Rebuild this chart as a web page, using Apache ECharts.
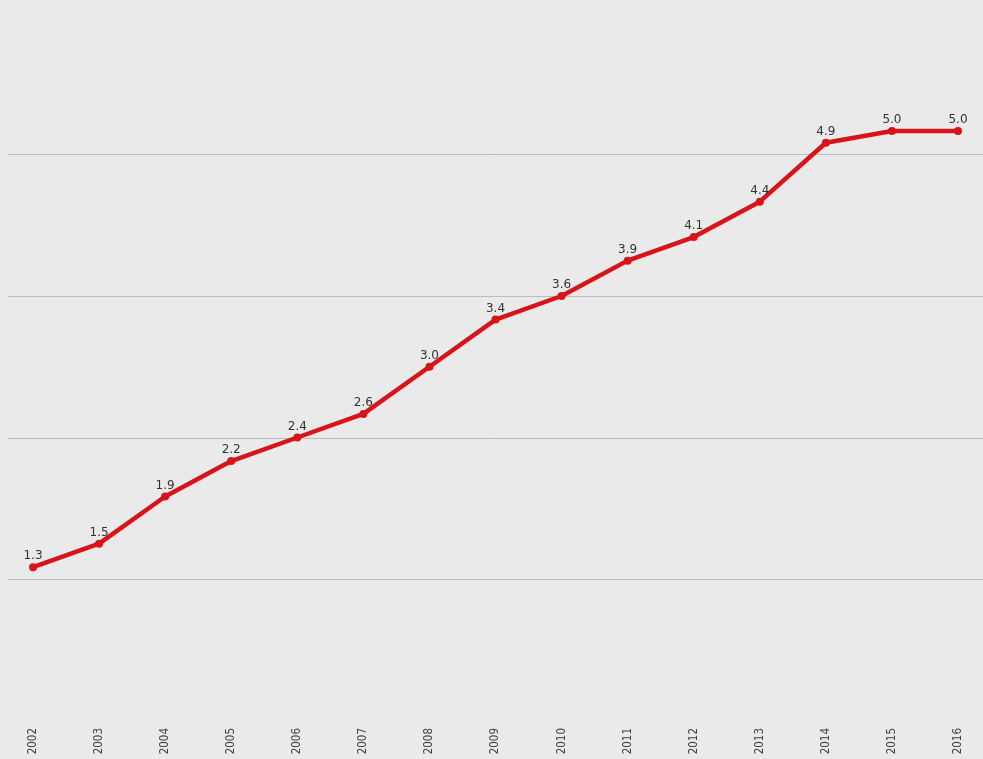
<!DOCTYPE html>
<html><head><meta charset="utf-8">
<script src="https://cdn.jsdelivr.net/npm/echarts@6/dist/echarts.min.js"></script>
<style>html,body{margin:0;padding:0;background:#eaeaea}#c{width:983px;height:759px}</style>
</head><body><div id="c"></div>
<script>
const years = ['2002','2003','2004','2005','2006','2007','2008','2009','2010','2011','2012','2013','2014','2015','2016'];
const values = [1.3,1.5,1.9,2.2,2.4,2.6,3.0,3.4,3.6,3.9,4.1,4.4,4.9,5.0,5.0];
const yMin = 0, yMax = 6, yStep = 1.2;

const chart = echarts.init(document.getElementById('c'), null, {renderer:'canvas'});
chart.setOption({
  backgroundColor: '#eaeaea',
  animation: false,
  grid: [
    {left: 8, right: 0, top: 154.5, bottom: 179.5},
    {left: 33, right: 25, top: 13, bottom: 38.5}
  ],
  xAxis: [
    {gridIndex: 0, type: 'value', min: 0, max: 1, show: false},
    {gridIndex: 1, type: 'category', data: years, boundaryGap: false,
     axisLine: {show: false}, axisTick: {show: false}, splitLine: {show: false},
     axisLabel: {rotate: 90, margin: 7.5, color: '#444', fontSize: 11.5, fontFamily: 'DejaVu Sans Condensed, DejaVu Sans', interval: 0}}
  ],
  yAxis: [
    {gridIndex: 0, type: 'value', min: yStep, max: yStep * 4, interval: yStep,
     axisLine: {show: false}, axisTick: {show: false}, axisLabel: {show: false},
     splitLine: {show: true, lineStyle: {color: '#bcbcbc', width: 1}},
     splitArea: {show: false}},
    {gridIndex: 1, type: 'value', min: yMin, max: yMax, interval: yStep, show: false,
     splitLine: {show: false}}
  ],
  series: [{
    type: 'line', xAxisIndex: 1, yAxisIndex: 1, data: values,
    lineStyle: {color: '#d7141a', width: 4.5},
    itemStyle: {color: '#d7141a'},
    symbol: 'circle', symbolSize: 8,
    label: {show: true, position: 'top', distance: 1, color: '#333', fontSize: 12,
      fontFamily: 'DejaVu Sans', formatter: p => p.value.toFixed(1)}
  }]
});
</script></body></html>
